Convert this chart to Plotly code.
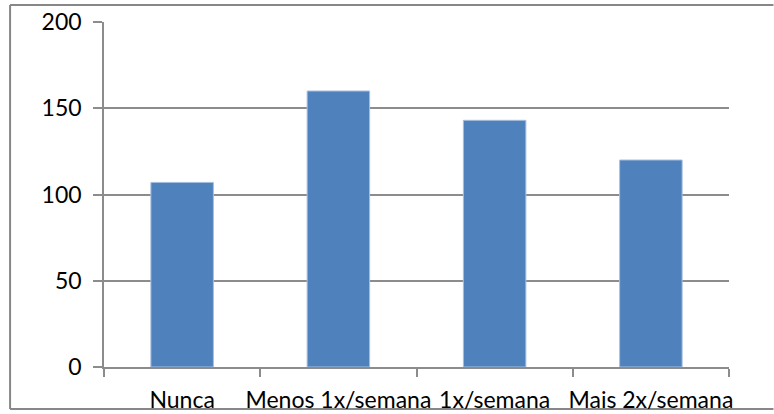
import plotly.graph_objects as go

categories = ["Nunca", "Menos 1x/semana", "1x/semana", "Mais 2x/semana"]
values = [107, 160, 143, 120]
y_ticks = [0, 50, 100, 150, 200]

W, H = 774, 414
L, R, T, B = 104, 44.5, 22, 47
pw = W - L - R
ph = H - T - B

fig = go.Figure()
fig.add_trace(go.Bar(
    x=categories, y=values,
    marker=dict(color="#4F81BD", line=dict(color="#A7BFDE", width=1)),
    width=0.4,
))

grid = "#8C8C8C"
fig.update_layout(
    width=W, height=H,
    margin=dict(l=L, r=R, t=T, b=B, autoexpand=False),
    paper_bgcolor="white", plot_bgcolor="white",
    showlegend=False,
    font=dict(family="Lato", size=23, color="black"),
    xaxis=dict(
        showgrid=False, showline=True, linecolor=grid, linewidth=1.5,
        ticks="outside", tickson="boundaries", ticklen=8, tickcolor=grid, tickwidth=1.5,
        tickfont=dict(family="Lato", size=23, color="black"),
        tickangle=0, automargin=False,
        ticklabelstandoff=12,
    ),
    yaxis=dict(
        range=[0, 200], tickvals=y_ticks,
        showgrid=True, gridcolor=grid, gridwidth=1.5,
        showline=True, linecolor=grid, linewidth=1.5,
        ticks="outside", ticklen=9, tickcolor=grid, tickwidth=1.5,
        zeroline=False, automargin=False,
        tickfont=dict(family="Lato", size=23, color="black"),
        ticklabelstandoff=7,
    ),
)

# outer chart frame (open on the right, like the reference crop)
def px_x(v):
    return (v - L) / pw

def px_y(v):
    return (H - B - v) / ph

border = dict(color="#878787", width=2)
for x0, y0, x1, y1 in [(10, 5, 774, 5), (10, 5, 10, 409), (10, 409, 774, 409)]:
    fig.add_shape(type="line", xref="paper", yref="paper",
                  x0=px_x(x0), y0=px_y(y0), x1=px_x(x1), y1=px_y(y1),
                  line=border, layer="below")

fig.write_html("out.html", config={"displayModeBar": False},
               post_script="document.body.style.margin='0px';")
